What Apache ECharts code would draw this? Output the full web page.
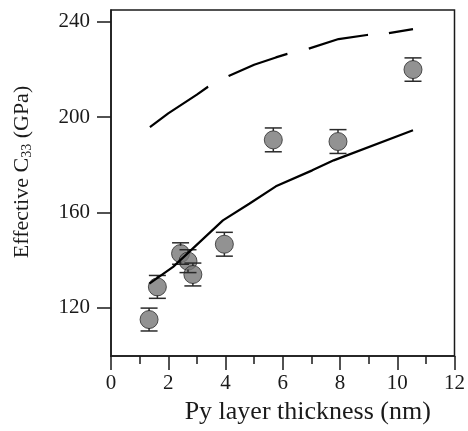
<!DOCTYPE html>
<html><head><meta charset="utf-8">
<script src="https://cdn.jsdelivr.net/npm/echarts@6/dist/echarts.min.js"></script>
<style>html,body{margin:0;padding:0;background:#fff}#c{width:468px;height:431px}</style>
</head><body><div id="c"></div>
<script>
// measured points
const thickness = [1.33, 1.62, 2.43, 2.69, 2.86, 3.96, 5.67, 7.93, 10.55];
const c33 = [115.1, 128.8, 142.8, 139.6, 134.0, 146.7, 190.5, 189.8, 220.0];
const c33Err = [4.8, 4.8, 4.5, 4.8, 4.8, 5.0, 5.0, 5.0, 4.9];
// solid model curve
const solidX = [1.34, 2.17, 3.91, 4.83, 5.76, 7.03, 7.78, 10.55];
const solidY = [130.2, 137.2, 156.7, 163.7, 171.0, 177.7, 181.9, 194.5];
// dashed model curve
const dashX = [1.36, 2.0, 3.0, 3.39, 4.11, 5.0, 5.76, 6.16, 6.89, 7.95, 8.94, 9.66, 10.55];
const dashY = [195.8, 201.6, 209.5, 212.8, 217.3, 222.0, 225.1, 226.6, 228.7, 232.8, 234.5, 235.2, 237.0];
const yTicks = [120, 160, 200, 240];

const FONT = '"Liberation Serif", "DejaVu Serif", serif';
const INK = '#1a1a1a';
const pts = thickness.map((x, i) => [x, c33[i]]);
const errData = thickness.map((x, i) => [x, c33[i] - c33Err[i], c33[i] + c33Err[i]]);

const chart = echarts.init(document.getElementById('c'));
chart.setOption({
  animation: false,
  backgroundColor: '#fff',
  grid: {left: 111, right: 11, top: 10, bottom: 75, show: true, borderColor: INK, borderWidth: 1.5, backgroundColor: 'transparent'},
  xAxis: {
    type: 'value', min: 0, max: 12, interval: 2,
    axisLine: {lineStyle: {color: INK, width: 1.5}},
    axisTick: {show: true, length: 14, lineStyle: {color: INK, width: 1.5}},
    minorTick: {show: true, splitNumber: 2, length: 8, lineStyle: {color: INK, width: 1.5}},
    splitLine: {show: false},
    axisLabel: {color: INK, fontFamily: FONT, fontSize: 21, margin: 17},
    name: 'Py layer thickness (nm)', nameLocation: 'middle', nameGap: 37,
    nameTextStyle: {color: INK, fontFamily: FONT, fontSize: 26, padding: [0, 0, 0, 50]}
  },
  yAxis: {
    type: 'value', min: 99.8, max: 245,
    axisLine: {lineStyle: {color: INK, width: 1.5}},
    axisTick: {show: true, length: 14, customValues: yTicks, lineStyle: {color: INK, width: 1.5}},
    splitLine: {show: false},
    axisLabel: {color: INK, fontFamily: FONT, fontSize: 21, margin: 21, customValues: yTicks},
    name: 'Effective C{s|33} (GPa)', nameLocation: 'middle', nameGap: 77,
    nameTextStyle: {color: INK, fontFamily: FONT, fontSize: 22, padding: [0, 0, 0, 22],
      rich: {s: {fontFamily: FONT, fontSize: 14, color: INK, verticalAlign: 'bottom', padding: [9, 0, 0, 0]}}}
  },
  series: [
    {
      type: 'scatter', data: pts, symbol: 'circle', symbolSize: 18, z: 2,
      itemStyle: {color: '#777777', borderColor: '#2a2a2a', borderWidth: 1}
    },
    {
      type: 'custom', data: errData, z: 3,
      renderItem: function (params, api) {
        const x = api.value(0);
        const lo = api.coord([x, api.value(1)]);
        const hi = api.coord([x, api.value(2)]);
        const cap = 8.5;
        const st = {stroke: '#2a2a2a', lineWidth: 1.5};
        return {type: 'group', children: [
          {type: 'line', shape: {x1: hi[0], y1: hi[1], x2: hi[0], y2: hi[1] + 3}, style: st},
          {type: 'line', shape: {x1: lo[0], y1: lo[1], x2: lo[0], y2: lo[1] - 3}, style: st},
          {type: 'line', shape: {x1: hi[0] - cap, y1: hi[1], x2: hi[0] + cap, y2: hi[1]}, style: st},
          {type: 'line', shape: {x1: lo[0] - cap, y1: lo[1], x2: lo[0] + cap, y2: lo[1]}, style: st}
        ]};
      }
    },
    {
      type: 'line', data: solidX.map((x, i) => [x, solidY[i]]), showSymbol: false, symbol: 'none', z: 4,
      smooth: false, lineStyle: {color: '#000', width: 2.2}
    },
    {
      type: 'line', data: dashX.map((x, i) => [x, dashY[i]]), showSymbol: false, symbol: 'none', z: 4,
      smooth: false, lineStyle: {color: '#000', width: 2.2, type: [71, 23, 63, 22, 61, 21, 40]}
    }
  ]
});
</script></body></html>
